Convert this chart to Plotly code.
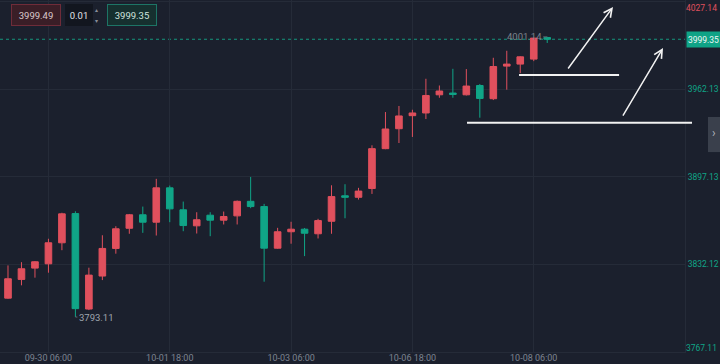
import plotly.graph_objects as go

# ---- data -------------------------------------------------------------
times = [
    "09-29 18:00", "09-29 22:00", "09-30 02:00", "09-30 06:00", "09-30 10:00",
    "09-30 14:00", "09-30 18:00", "09-30 22:00", "10-01 02:00", "10-01 06:00",
    "10-01 10:00", "10-01 14:00", "10-01 18:00", "10-01 22:00", "10-02 02:00",
    "10-02 06:00", "10-02 10:00", "10-02 14:00", "10-02 18:00", "10-02 22:00",
    "10-03 02:00", "10-03 06:00", "10-03 10:00", "10-03 14:00", "10-03 18:00",
    "10-05 22:00", "10-06 02:00", "10-06 06:00", "10-06 10:00", "10-06 14:00",
    "10-06 18:00", "10-06 22:00", "10-07 02:00", "10-07 06:00", "10-07 10:00",
    "10-07 14:00", "10-07 18:00", "10-07 22:00", "10-08 02:00", "10-08 06:00",
    "10-08 10:00",
]
open_ = [3807.1, 3821.0, 3829.4, 3832.6, 3848.2, 3869.9, 3799.0, 3823.5, 3844.0, 3859.0,
         3869.0, 3863.5, 3889.0, 3872.7, 3860.8, 3868.7, 3865.0, 3868.2, 3879.0, 3875.1,
         3844.2, 3856.4, 3858.3, 3854.9, 3864.2, 3883.1, 3882.0, 3888.5, 3918.1, 3932.9,
         3942.6, 3944.6, 3958.1, 3959.4, 3958.1, 3965.0, 3955.2, 3979.4, 3980.9, 3984.6,
         4000.6]
high = [3831.4, 3833.8, 3834.6, 3851.2, 3870.5, 3871.6, 3829.7, 3853.8, 3860.5, 3869.6,
        3875.1, 3895.7, 3890.7, 3878.8, 3870.9, 3870.9, 3871.4, 3879.6, 3897.1, 3877.1,
        3859.3, 3863.8, 3859.2, 3866.0, 3890.9, 3891.7, 3889.0, 3920.6, 3945.3, 3949.8,
        3947.0, 3970.0, 3965.0, 3977.4, 3977.2, 3966.1, 3985.6, 3990.8, 3986.7, 4000.4,
        4001.14]
low = [3806.6, 3816.6, 3822.3, 3826.0, 3842.7, 3793.11, 3798.2, 3820.5, 3840.1, 3854.9,
       3855.6, 3853.6, 3863.5, 3856.8, 3855.1, 3853.1, 3861.8, 3861.8, 3873.9, 3819.3,
       3843.8, 3847.5, 3838.3, 3851.4, 3854.9, 3866.4, 3880.3, 3884.5, 3917.7, 3922.3,
       3926.8, 3940.1, 3955.9, 3955.9, 3957.6, 3941.1, 3954.2, 3961.9, 3974.2, 3983.1,
       3996.6]
close = [3821.5, 3828.9, 3834.1, 3848.2, 3869.7, 3799.3, 3824.2, 3844.0, 3858.6, 3869.0,
         3863.5, 3889.0, 3873.4, 3861.0, 3865.3, 3865.0, 3867.7, 3879.0, 3875.1, 3844.2,
         3856.4, 3858.3, 3855.3, 3864.7, 3882.5, 3882.0, 3886.6, 3918.1, 3932.7, 3942.4,
         3944.6, 3957.6, 3960.9, 3958.4, 3964.6, 3955.4, 3979.1, 3980.9, 3986.3, 4000.2,
         3999.35]

x_ticks = ["09-30 06:00", "10-01 18:00", "10-03 06:00", "10-06 18:00", "10-08 06:00"]
y_ticks = [3767.11, 3832.12, 3897.13, 3962.13, 4027.14]
last_price = 3999.35
ask_price = 3999.49
step_text = "0.01"
low_label = 3793.11
high_label = 4001.14

# user drawings (x in candle index units, y in price)
h_lines = [(37.91, 45.33, 3972.8), (34.05, 50.74, 3937.4)]
arrows = [(41.47, 3976.5, 44.88, 4023.3), (45.55, 3941.6, 48.59, 3992.9)]

# ---- style ------------------------------------------------------------
BG = "#1b202d"
GRID = "#252b38"
RED = "#e0505d"
GREEN = "#10a587"
FONT = "Roboto"
XR = [-0.593, 50.22]
YFS = 8.5

fig = go.Figure()
fig.add_trace(go.Candlestick(
    x=times, open=open_, high=high, low=low, close=close,
    increasing=dict(line=dict(color=RED, width=1), fillcolor=RED),
    decreasing=dict(line=dict(color=GREEN, width=1), fillcolor=GREEN),
    hoverinfo="skip", showlegend=False,
))
# helper traces for the edge price labels
fig.add_trace(go.Scatter(x=[], y=[], yaxis="y2", showlegend=False))
fig.add_trace(go.Scatter(x=[], y=[], yaxis="y3", showlegend=False))

yr = [3767.1, 4028.5]
fig.update_layout(
    width=720, height=364,
    margin=dict(l=0, r=35, t=0, b=12),
    paper_bgcolor=BG, plot_bgcolor=BG,
    font=dict(family=FONT, size=10, color="#8a909b"),
    showlegend=False,
    xaxis=dict(
        type="category", range=XR,
        rangeslider=dict(visible=False),
        tickvals=x_ticks, ticktext=x_ticks,
        tickfont=dict(size=9, color="#7d8390"),
        showgrid=True, gridcolor=GRID, gridwidth=1,
        showline=True, linecolor=GRID, ticks="", automargin=False,
        ticklabelstandoff=-3,
    ),
    yaxis=dict(
        side="right", range=yr,
        tickvals=y_ticks,
        ticktext=[""] + [f"{v:.2f}" for v in y_ticks[1:-1]] + [""],
        tickfont=dict(size=YFS, color=GREEN),
        showgrid=True, gridcolor=GRID, zeroline=False,
        showline=True, linecolor=GRID, ticks="", automargin=False,
        ticklabelstandoff=0,
    ),
    yaxis2=dict(
        overlaying="y", side="right", range=yr,
        tickvals=[y_ticks[-1]], ticktext=[f"{y_ticks[-1]:.2f}"],
        tickfont=dict(size=YFS, color=RED), showgrid=False, zeroline=False,
        ticks="", ticklabelshift=6, ticklabelstandoff=0, automargin=False,
    ),
    yaxis3=dict(
        overlaying="y", side="right", range=yr,
        tickvals=[y_ticks[0]], ticktext=[f"{y_ticks[0]:.2f}"],
        tickfont=dict(size=YFS, color=GREEN), showgrid=False, zeroline=False,
        ticks="", ticklabelshift=-4, ticklabelstandoff=0, automargin=False,
    ),
)

# current price dotted line + label
fig.add_shape(type="line", xref="paper", x0=0, x1=1, yref="y", y0=last_price, y1=last_price,
              line=dict(color="#16957d", width=1, dash="dot"), layer="below")
fig.add_annotation(xref="paper", x=1.0015, xanchor="left", yref="y", y=last_price,
                   yanchor="middle",
                   text=f"{last_price:.2f}", showarrow=False, bgcolor="#0fa386",
                   font=dict(size=YFS, color="#eef7f5", family=FONT), borderpad=1,
                   width=31, height=13)

# high / low labels
fig.add_annotation(x=5, y=low_label, text=f"{low_label:.2f}",
                   showarrow=True, arrowhead=0, arrowwidth=1, arrowcolor="#5f6672",
                   ax=21, ay=1, font=dict(size=9.5, color="#a0a6af"))
fig.add_annotation(x=len(times) - 1, y=high_label, text=f"{high_label:.2f}",
                   showarrow=True, arrowhead=0, arrowwidth=1, arrowcolor="#5f6672",
                   ax=-23, ay=0, font=dict(size=9.5, color="#7c828c"))

# user drawings (horizontal lines converted to paper x so they may run past the plot edge)
def to_paper(idx):
    return (idx - XR[0]) / (XR[1] - XR[0])

for x0, x1, yv in h_lines:
    fig.add_shape(type="line", xref="paper", yref="y", x0=to_paper(x0), x1=to_paper(x1),
                  y0=yv, y1=yv, line=dict(color="#f2f2f2", width=2))
for ax_, ay_, hx, hy in arrows:
    fig.add_annotation(x=hx, y=hy, ax=ax_, ay=ay_, axref="x", ayref="y", text="",
                       showarrow=True, arrowhead=5, arrowsize=1.1, arrowwidth=1.5,
                       arrowcolor="#f2f2f2")

# right side collapse tab
fig.add_shape(type="rect", xref="paper", yref="paper", x0=1.0336, x1=1.07, y0=0.568, y1=0.6676,
              fillcolor="#3a404c", line=dict(width=0))
fig.add_annotation(xref="paper", yref="paper", x=1.0423, y=0.622, text="›", showarrow=False,
                   xanchor="center", yanchor="middle",
                   font=dict(size=12, color="#b0b5be"))

# top-left trading widget
widget = dict(showarrow=False, xref="paper", yref="paper", xanchor="center", yanchor="middle")
fig.add_annotation(x=0.0526, y=0.956, text=f"{ask_price:.2f}",
                   bgcolor="#3a1e27", bordercolor="#6f2c39", borderwidth=1,
                   borderpad=1, width=46, height=18, font=dict(size=9.5, color="#d9c9cc"), **widget)
fig.add_annotation(x=0.1153, y=0.956, text=step_text,
                   bgcolor="#12161f", bordercolor="#12161f", borderwidth=1,
                   borderpad=1, width=24, height=18, font=dict(size=9.5, color="#e0e3e8"), **widget)
fig.add_annotation(x=0.1416, y=0.972, text="▴",
                   font=dict(size=6, color="#8a8f99"), **widget)
fig.add_annotation(x=0.1416, y=0.942, text="▾",
                   font=dict(size=6, color="#8a8f99"), **widget)
fig.add_annotation(x=0.1927, y=0.956, text=f"{last_price:.2f}",
                   bgcolor="#16302f", bordercolor="#1d7566", borderwidth=1,
                   borderpad=1, width=46, height=18, font=dict(size=9.5, color="#d0e3df"), **widget)

fig.write_html("out.html", config={"displayModeBar": False},
               post_script="document.body.style.margin='0';document.body.style.padding='0';")
